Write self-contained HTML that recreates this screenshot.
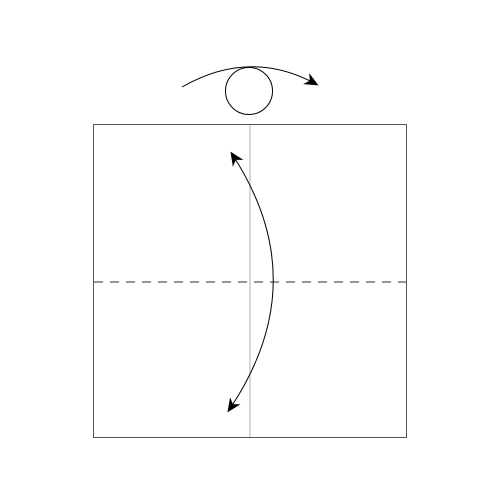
<!DOCTYPE html>
<html><head><style>body{margin:0;background:#fff}svg{display:block}</style></head>
<body>
<svg width="500" height="500" viewBox="0 0 500 500">
<defs><marker id="ah" viewBox="0 0 10 10" refX="8" refY="5" markerWidth="14" markerHeight="14" markerUnits="userSpaceOnUse" orient="auto-start-reverse"><path d="M0,0.5 L10,5 L0,9.5 L3,5 z" fill="#000"/></marker></defs>
<rect x="93.5" y="124.5" width="313" height="313" fill="none" stroke="#555" stroke-width="1"/>
<line x1="250" y1="125" x2="250" y2="437" stroke="#ccc" stroke-width="1.5"/>
<line x1="94" y1="282" x2="406" y2="282" stroke="#777" stroke-width="1.5" stroke-dasharray="9,7"/>
<circle cx="249" cy="91" r="23.5" fill="none" stroke="#000" stroke-width="1"/>
<path d="M182,87 Q250,48 316,84" fill="none" stroke="#000" stroke-width="1" marker-end="url(#ah)"/>
<path d="M232,154 Q316,282 229,410" fill="none" stroke="#000" stroke-width="1" marker-start="url(#ah)" marker-end="url(#ah)"/>
</svg>
</body></html>
